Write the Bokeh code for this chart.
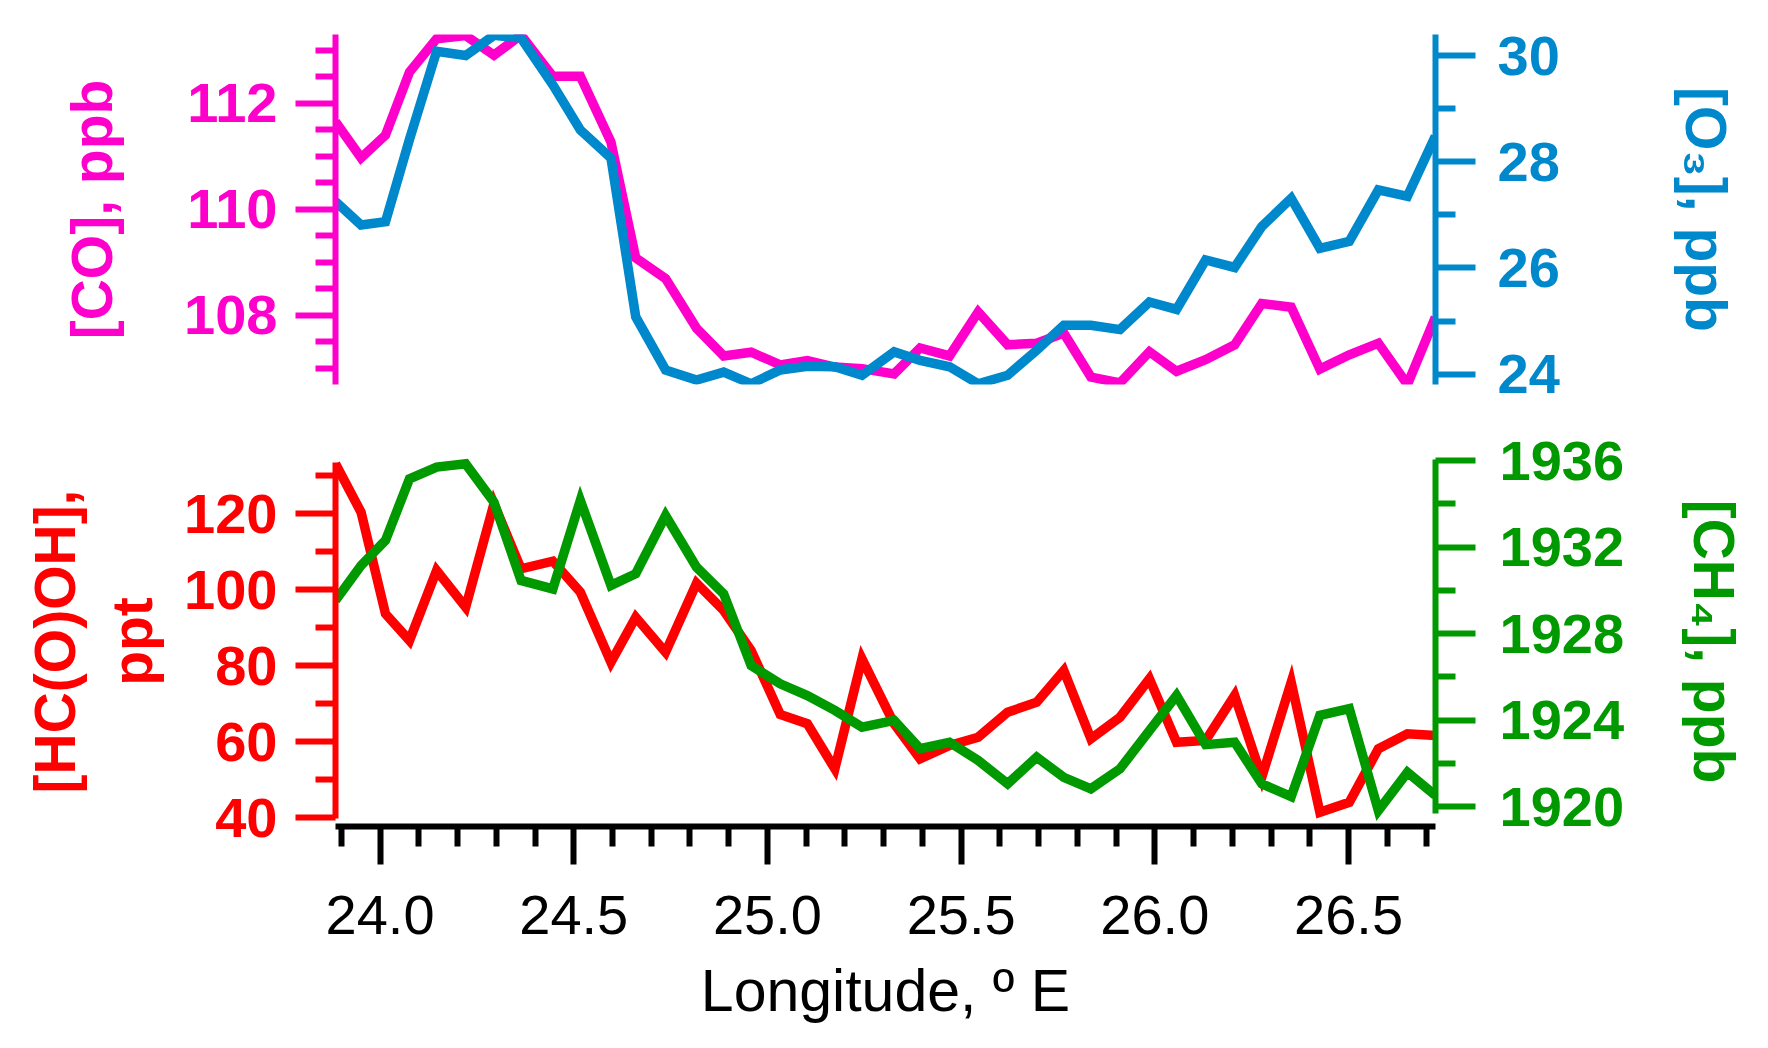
from bokeh.plotting import figure
from bokeh.models import Range1d, LinearAxis, FixedTicker, PrintfTickFormatter
from bokeh.layouts import column
from bokeh.embed import file_html
from bokeh.resources import INLINE

# ---------------- data ----------------
lon = [23.885, 23.951, 24.014, 24.076, 24.146, 24.221, 24.294, 24.364, 24.446, 24.517,
       24.596, 24.660, 24.737, 24.817, 24.887, 24.958, 25.033, 25.103, 25.174, 25.244,
       25.327, 25.394, 25.470, 25.544, 25.620, 25.695, 25.765, 25.835, 25.910, 25.986,
       26.056, 26.131, 26.206, 26.276, 26.352, 26.426, 26.502, 26.577, 26.652, 26.724]

co = [111.65, 110.97, 111.40, 112.59, 113.22, 113.28, 112.91, 113.29, 112.51, 112.51,
      111.27, 109.08, 108.69, 107.75, 107.23, 107.30, 107.06, 107.14, 107.02, 106.99,
      106.89, 107.38, 107.23, 108.06, 107.44, 107.47, 107.66, 106.83, 106.72, 107.31,
      106.94, 107.16, 107.44, 108.22, 108.15, 106.98, 107.25, 107.47, 106.69, 107.96]

o3 = [27.25, 26.81, 26.87, 28.42, 30.08, 30.00, 30.38, 30.33, 29.45, 28.60,
      28.07, 25.08, 24.08, 23.89, 24.04, 23.82, 24.08, 24.15, 24.14, 23.98,
      24.42, 24.26, 24.14, 23.82, 23.98, 24.45, 24.92, 24.92, 24.84, 25.36,
      25.22, 26.15, 26.01, 26.78, 27.31, 26.37, 26.50, 27.47, 27.35, 28.48]

hcooh = [133.18, 120.44, 93.69, 86.66, 105.09, 95.43, 122.65, 105.54, 107.54, 99.38,
         80.95, 92.79, 83.58, 101.75, 94.56, 84.03, 67.17, 64.73, 52.88, 81.84,
         64.73, 55.51, 59.01, 61.20, 67.78, 70.41, 78.76, 60.78, 66.46, 76.57,
         59.88, 60.33, 72.18, 50.67, 75.68, 41.45, 44.08, 58.14, 62.09, 61.65]

ch4 = [1929.53, 1931.15, 1932.31, 1935.16, 1935.70, 1935.85, 1934.08, 1930.46, 1930.07, 1934.16,
       1930.23, 1930.77, 1933.46, 1931.07, 1929.84, 1926.53, 1925.68, 1925.14, 1924.45, 1923.68,
       1923.99, 1922.68, 1922.98, 1922.14, 1921.06, 1922.29, 1921.36, 1920.83, 1921.75, 1923.52,
       1925.14, 1922.87, 1922.98, 1921.06, 1920.47, 1924.22, 1924.53, 1919.82, 1921.59, 1920.52]

# ---------------- ticks ----------------
co_major = [108, 110, 112]
co_minor = [107, 107.5, 108.5, 109, 109.5, 110.5, 111, 111.5, 112.5, 113]
o3_major = [24, 26, 28, 30]
o3_minor = [25, 27, 29]
hc_major = [40, 60, 80, 100, 120]
hc_minor = [50, 70, 90, 110, 130]
ch4_major = [1920, 1924, 1928, 1932, 1936]
ch4_minor = [1922, 1926, 1930, 1934]
lon_major = [24.0, 24.5, 25.0, 25.5, 26.0, 26.5]
lon_minor = [23.9, 24.1, 24.2, 24.3, 24.4, 24.6, 24.7, 24.8, 24.9,
             25.1, 25.2, 25.3, 25.4, 25.6, 25.7, 25.8, 25.9,
             26.1, 26.2, 26.3, 26.4, 26.6, 26.7]

# ---------------- colours ----------------
C_CO = "#FF00CC"
C_O3 = "#0088CC"
C_HC = "#FF0000"
C_CH4 = "#009900"
FONT = "Liberation Sans"
LW = 9.5


def style_axis(ax, color, size, bold, standoff, tick_out=40, minor_out=20):
    ax.axis_line_color = color
    ax.axis_line_width = 6
    ax.major_tick_line_color = color
    ax.major_tick_line_width = 6
    ax.minor_tick_line_color = color
    ax.minor_tick_line_width = 6
    ax.major_tick_in = 0
    ax.major_tick_out = tick_out
    ax.minor_tick_in = 0
    ax.minor_tick_out = minor_out
    ax.major_label_text_color = color
    ax.major_label_text_font = FONT
    ax.major_label_text_font_size = f"{size}px"
    ax.major_label_text_font_style = "bold" if bold else "normal"
    ax.major_label_standoff = standoff


def title_axis(p, side, range_name, bounds, text, color, standoff):
    """An axis without line or ticks that only carries a title."""
    ax = LinearAxis(y_range_name=range_name, ticker=FixedTicker(ticks=[], minor_ticks=[]))
    ax.bounds = bounds
    ax.axis_line_color = None
    ax.major_tick_line_color = None
    ax.minor_tick_line_color = None
    ax.major_tick_out = 0
    ax.minor_tick_out = 0
    ax.major_label_standoff = 0
    ax.axis_label = text
    ax.axis_label_text_color = color
    ax.axis_label_text_font = FONT
    ax.axis_label_text_font_size = "57px"
    ax.axis_label_text_font_style = "bold"
    ax.axis_label_standoff = standoff
    p.add_layout(ax, side)
    return ax


# ---------------- top panel ----------------
p1 = figure(width=1760, height=408,
            x_range=Range1d(23.885, 26.7245), y_range=Range1d(106.69, 113.30),
            x_axis_location=None, y_axis_location="left",
            output_backend="svg", toolbar_location=None,
            min_border_left=335, min_border_right=325,
            min_border_top=34, min_border_bottom=24)
p1.outline_line_color = None
p1.grid.grid_line_color = None
p1.extra_y_ranges = {"o3": Range1d(23.806, 30.396)}

ax_co = p1.left[0]
ax_co.ticker = FixedTicker(ticks=co_major, minor_ticks=co_minor)
style_axis(ax_co, C_CO, 56, True, 18)

ax_o3 = LinearAxis(y_range_name="o3", ticker=FixedTicker(ticks=o3_major, minor_ticks=o3_minor))
style_axis(ax_o3, C_O3, 56, True, 22)
p1.add_layout(ax_o3, "right")

title_axis(p1, "left", "default", (108.13, 111.91), "[CO], ppb", C_CO, 58)
title_axis(p1, "right", "o3", (26.04, 29.17), "[O\u2083], ppb", C_O3, 111)

p1.line(lon, co, line_color=C_CO, line_width=LW, line_join="miter")
p1.line(lon, o3, line_color=C_O3, line_width=LW, line_join="miter", y_range_name="o3")

# ---------------- bottom panel ----------------
p2 = figure(width=1760, height=632,
            x_range=Range1d(23.885, 26.7245), y_range=Range1d(37.69, 135.11),
            output_backend="svg", toolbar_location=None,
            min_border_left=335, min_border_right=325,
            min_border_top=48, min_border_bottom=214)
p2.outline_line_color = None
p2.grid.grid_line_color = None
p2.extra_y_ranges = {"ch4": Range1d(1919.085, 1936.19)}

ax_hc = p2.left[0]
ax_hc.ticker = FixedTicker(ticks=hc_major, minor_ticks=hc_minor)
ax_hc.bounds = (39.9, 133.6)
style_axis(ax_hc, C_HC, 56, True, 18)

ax_ch4 = LinearAxis(y_range_name="ch4", ticker=FixedTicker(ticks=ch4_major, minor_ticks=ch4_minor))
ax_ch4.bounds = (1919.67, 1936.05)
style_axis(ax_ch4, C_CH4, 56, True, 24)
p2.add_layout(ax_ch4, "right")

title_axis(p2, "left", "default", (54.80, 107.46), "[HC(O)OH],\nppt", C_HC, 18)
title_axis(p2, "right", "ch4", (1922.92, 1932.17), "[CH\u2084], ppb", C_CH4, 54)

ax_x = p2.below[0]
ax_x.ticker = FixedTicker(ticks=lon_major, minor_ticks=lon_minor)
ax_x.formatter = PrintfTickFormatter(format="%.1f")
style_axis(ax_x, "black", 56, False, 31, tick_out=38, minor_out=20)
ax_x.axis_label = "Longitude, \u00ba E"
ax_x.axis_label_text_font = FONT
ax_x.axis_label_text_font_size = "59px"
ax_x.axis_label_text_font_style = "normal"
ax_x.axis_label_text_color = "black"
ax_x.axis_label_standoff = 21

p2.line(lon, hcooh, line_color=C_HC, line_width=LW, line_join="miter")
p2.line(lon, ch4, line_color=C_CH4, line_width=LW, line_join="miter", y_range_name="ch4")

layout = column(p1, p2, spacing=0)
open("out.html", "w").write(file_html(layout, INLINE))
